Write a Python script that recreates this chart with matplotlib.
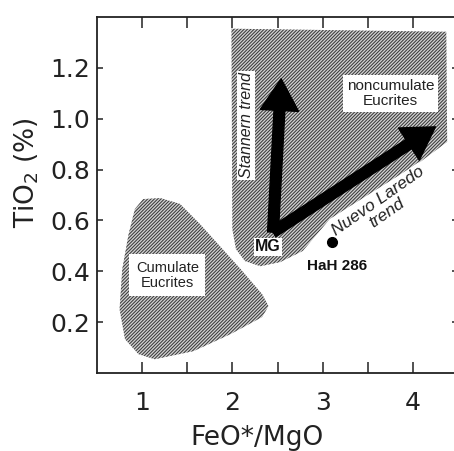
import matplotlib
matplotlib.use("Agg")
import matplotlib.pyplot as plt
from matplotlib.patches import Polygon

# Region outlines (FeO*/MgO, TiO2 %)
noncum_x = [1.99, 4.37, 4.38, 4.08, 3.08, 2.78, 2.53, 2.31, 2.14, 2.04, 2.00]
noncum_y = [1.354, 1.342, 0.909, 0.830, 0.606, 0.480, 0.436, 0.420, 0.440, 0.487, 0.566]

cum_x = [1.01, 1.20, 1.42, 1.64, 2.09, 2.33, 2.40, 2.33, 1.98, 1.57, 1.14, 0.96, 0.81,
         0.75, 0.78, 0.85, 0.92]
cum_y = [0.684, 0.688, 0.665, 0.586, 0.409, 0.310, 0.263, 0.220, 0.153, 0.086, 0.054,
         0.074, 0.133, 0.251, 0.409, 0.546, 0.645]

# Trend arrows (start at MG)
mg = (2.45, 0.554)
stannern_tip = (2.54, 1.157)
laredo_tip = (4.25, 0.968)

# HaH 286 sample
hah_x = [3.10]
hah_y = [0.515]

xticks = [1, 2, 3, 4]
xminor = [1.5, 2.5, 3.5]
yticks = [0.2, 0.4, 0.6, 0.8, 1.0, 1.2]

plt.rcParams["hatch.linewidth"] = 0.75
plt.rcParams["font.family"] = "DejaVu Sans"

fig = plt.figure(figsize=(4.54, 4.51), dpi=100)
ax = fig.add_axes([97 / 454, 78 / 451, 361 / 454, 356 / 451])
ax.set_xlim(0.5, 4.5)
ax.set_ylim(0, 1.4)

# hatched regions
for xs, ys in [(noncum_x, noncum_y), (cum_x, cum_y)]:
    poly = Polygon(list(zip(xs, ys)), closed=True, facecolor="#d2d2d2",
                   edgecolor="#3a3a3a", linewidth=0, hatch="//////////", zorder=1)
    ax.add_patch(poly)

# arrows
arrow_style = "simple,head_length=1.9,head_width=2.3,tail_width=0.65"
for tip in [stannern_tip, laredo_tip]:
    ax.annotate("", xy=tip, xytext=mg,
                arrowprops=dict(arrowstyle=arrow_style, color="black",
                                mutation_scale=12, shrinkA=0, shrinkB=0),
                zorder=3)

ax.plot(hah_x, hah_y, "o", color="black", markersize=7, zorder=4)

white_box = dict(boxstyle="square,pad=0.25", facecolor="white", edgecolor="none")
ax.text(3.75, 1.10, "noncumulate\nEucrites", ha="center", va="center",
        fontsize=11, family="Liberation Sans", color="#222", linespacing=1.1,
        bbox=white_box, zorder=5)
ax.text(2.155, 0.975, "Stannern trend", ha="center", va="center", rotation=90,
        fontsize=11.5, family="Liberation Sans", style="italic", color="#222",
        bbox=dict(boxstyle="square,pad=0.1", facecolor="white", edgecolor="none"),
        zorder=5)
ax.text(2.395, 0.497, "MG", ha="center", va="center", fontsize=11.5,
        family="Liberation Sans", weight="bold", color="#111",
        bbox=dict(boxstyle="square,pad=0.1", facecolor="white", edgecolor="none"),
        zorder=5)
ax.text(1.28, 0.385, "Cumulate\nEucrites", ha="center", va="center",
        fontsize=10.5, family="Liberation Sans", color="#222", linespacing=1.1,
        bbox=dict(boxstyle="square,pad=0.45", facecolor="white", edgecolor="none"),
        zorder=5)
ax.text(3.16, 0.42, "HaH 286", ha="center", va="center", fontsize=11,
        family="Liberation Sans", weight="bold", color="#111", zorder=5)
ax.text(3.66, 0.653, "Nuevo Laredo\ntrend", ha="center", va="center",
        rotation=35, rotation_mode="anchor", fontsize=12.5,
        family="Liberation Sans", style="italic", color="#222", linespacing=1.0,
        bbox=dict(boxstyle="square,pad=0.05", facecolor="white", edgecolor="none"),
        zorder=5)

# axes styling
ax.set_xticks(xticks)
ax.set_xticks(xminor, minor=True)
ax.set_yticks(yticks)
ax.set_yticklabels([f"{v:.1f}" for v in yticks])
ax.tick_params(axis="x", which="both", direction="in", top=True, bottom=True,
               length=8, width=1.1, labelsize=18, pad=13, colors="#222")
ax.tick_params(axis="y", direction="in", left=True, right=True, length=4,
               width=1.1, labelsize=18, pad=5, colors="#222")
for s in ax.spines.values():
    s.set_linewidth(1.3)
    s.set_color("#222")

ax.set_xlabel("FeO*/MgO", fontsize=19, color="#222")
ax.set_ylabel("TiO$_2$ (%)", fontsize=19, color="#222")
ax.xaxis.set_label_coords(0.443, -0.147)
ax.yaxis.set_label_coords(-0.155, 0.562)

fig.savefig("out.png", dpi=100)
